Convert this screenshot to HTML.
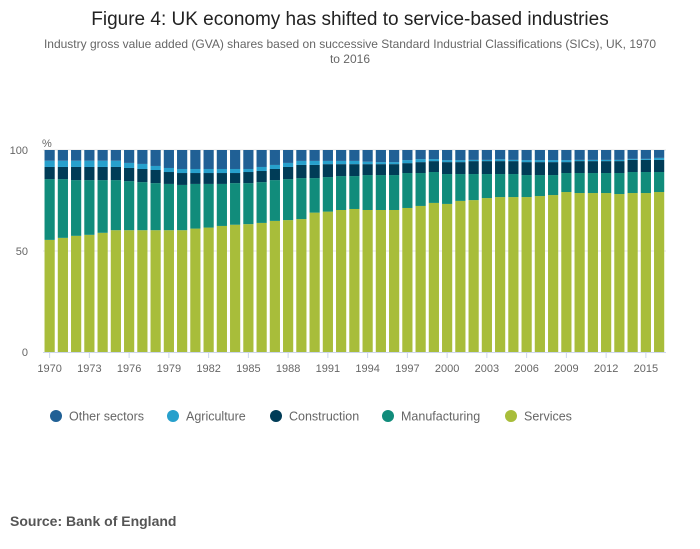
<!DOCTYPE html>
<html><head><meta charset="utf-8"><style>
body{margin:0;background:#fff;font-family:"Liberation Sans",sans-serif;}
#wrap{position:relative;width:700px;height:549px;overflow:hidden;}
</style></head><body>
<div id="wrap">
<svg id="chart" width="700" height="549">
<text x="350" y="25" text-anchor="middle" font-size="19" fill="#222">Figure 4: UK economy has shifted to service-based industries</text>
<text x="350" y="48" text-anchor="middle" font-size="12" fill="#666">Industry gross value added (GVA) shares based on successive Standard Industrial Classifications (SICs), UK, 1970</text>
<text x="350" y="63" text-anchor="middle" font-size="12" fill="#666">to 2016</text>
<text x="42" y="147" font-size="11" fill="#666">%</text>
<g id="plot"></g>
<g id="legend"></g>
<text x="10" y="526" font-size="14" font-weight="bold" fill="#555">Source: Bank of England</text>
</svg>
</div>
<script>
const years = [1970,1971,1972,1973,1974,1975,1976,1977,1978,1979,1980,1981,1982,1983,1984,1985,1986,1987,1988,1989,1990,1991,1992,1993,1994,1995,1996,1997,1998,1999,2000,2001,2002,2003,2004,2005,2006,2007,2008,2009,2010,2011,2012,2013,2014,2015,2016];
const services = [55.5,56.5,57.5,58,59,60.3,60.3,60.3,60.3,60.3,60.3,61.1,61.6,62.4,63,63.3,63.9,64.9,65.3,65.8,69,69.5,70.3,70.8,70.3,70.3,70.3,71.3,72.3,73.8,73.3,74.8,75.2,76.2,76.7,76.7,76.7,77.2,77.7,79.2,78.7,78.7,78.7,78.2,78.7,78.7,79.2];
const manufacturing = [30.1,29.1,27.6,27.1,26.1,24.8,24.3,23.8,23.3,22.9,22.4,22.1,21.6,20.8,20.6,20.3,20.2,20.2,20.3,20.3,17.1,17.1,16.8,16.3,17.3,17.3,17.3,17.3,16.3,15.3,14.8,13.3,12.9,11.9,11.4,11.4,10.9,10.4,9.9,9.4,9.9,9.9,9.9,10.4,10.4,10.4,9.9];
const construction = [6.0,6.0,6.5,6.5,6.5,6.5,6.5,6.5,6.5,5.9,5.9,5.4,5.4,5.4,5.0,5.5,5.5,5.5,6.0,6.5,6.5,6.4,5.9,5.9,5.4,5.4,5.4,4.9,5.4,5.4,5.9,5.9,6.4,6.4,6.4,6.4,6.4,6.4,6.4,5.4,5.9,5.9,5.9,5.9,6.0,6.0,6.0];
const agriculture = [3.1,3.1,3.1,3.1,3.1,3.1,2.5,2.5,2.0,2.0,2.0,2.0,2.0,2.0,2.0,1.5,2.0,2.0,2.0,2.0,2.0,1.6,1.6,1.6,1.2,1.0,1.0,1.5,1.5,1.0,1.0,1.0,0.6,0.6,0.9,0.6,1.0,1.0,1.0,1.0,0.6,0.6,0.6,0.6,0.5,0.5,1.0];
const other = [5.3,5.3,5.3,5.3,5.3,5.3,6.4,6.9,7.9,8.9,9.4,9.4,9.4,9.4,9.4,9.4,8.4,7.4,6.4,5.4,5.4,5.4,5.4,5.4,5.8,6.0,6.0,4.9,4.5,4.5,5.0,5.0,5.0,5.0,4.6,5.0,5.0,5.0,5.0,5.0,5.0,5.0,5.0,5.0,4.5,4.5,4.0];
const yTicks = [0,50,100];
const seriesNames = ["Services","Manufacturing","Construction","Agriculture","Other sectors"];

const NS="http://www.w3.org/2000/svg";
const plot=document.getElementById('plot');
const X0=43, STEP=13.25, BW=10.2, Y0=352, YTOP=150;
function y(v){return Y0-(v/100)*(Y0-YTOP);}
function xc(i){return X0+STEP*i+STEP/2;}
function mk(tag,attrs,parent){const e=document.createElementNS(NS,tag);for(const k in attrs)e.setAttribute(k,attrs[k]);(parent||plot).appendChild(e);return e;}

yTicks.forEach(t=>{
  if(t>0){const g=mk('line',{x1:X0,x2:666,y1:y(t),y2:y(t),stroke:'#e6e6e6','stroke-width':1});
  
  }
  const tx=mk('text',{x:28,y:y(t)+4,'text-anchor':'end','font-size':11,fill:'#666'});
  tx.textContent=t;
  
  
});

const series=[services,manufacturing,construction,agriculture,other];
const colors=["#a8bd3a","#118c7b","#003c57","#27a0cc","#206095"];
years.forEach((yr,i)=>{
  let cum=0;
  series.forEach((arr,s)=>{
    let v=arr[i];
    if(s===4) v=Math.max(0,100-cum);
    const r=mk('rect',{x:xc(i)-BW/2,y:y(cum+v),width:BW,height:y(cum)-y(cum+v),fill:colors[s]});
    
    
    cum+=v;
  });
});
const ax=mk('line',{x1:X0,x2:666,y1:Y0+0.5,y2:Y0+0.5,stroke:'#ccd6eb','stroke-width':1});


years.forEach((yr,i)=>{
  if((yr-1970)%3!==0) return;
  const t=mk('line',{x1:xc(i),x2:xc(i),y1:Y0,y2:Y0+6,stroke:'#ccd6eb','stroke-width':1});
  
  
  const l=mk('text',{x:xc(i),y:372,'text-anchor':'middle','font-size':11,fill:'#666'});
  l.textContent=yr;
  
  
});

const leg=document.getElementById('legend');
const legItems=[["Other sectors","#206095",56],["Agriculture","#27a0cc",173],["Construction","#003c57",276],["Manufacturing","#118c7b",388],["Services","#a8bd3a",511]];
legItems.forEach(([name,c,x])=>{
  const g=mk('g',{},leg);
  
  
  mk('circle',{cx:x,cy:416,r:6,fill:c},g);
  const t=mk('text',{x:x+13,y:420.5,'font-size':12.5,fill:'#666'},g);
  t.textContent=name;
});
</script>
</body></html>
